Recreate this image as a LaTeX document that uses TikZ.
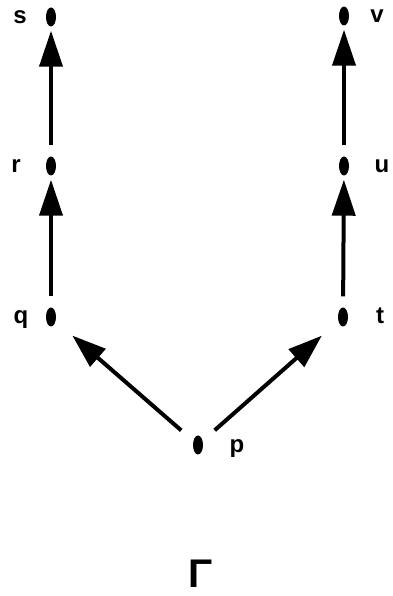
\documentclass[tikz,border=0pt]{standalone}
\usepackage{fontspec}
\setmainfont{Liberation Sans}
\usetikzlibrary{arrows.meta,shapes.geometric}
\tikzset{
  pt/.style={draw=none,fill=black,ellipse,minimum width=10pt,minimum height=19pt,inner sep=0pt},
  lbl/.style={font=\fontsize{24}{28}\selectfont\bfseries,inner sep=0pt},
  up/.style={line width=4pt,-{Triangle[length=36pt,width=23pt]},shorten <=11pt,shorten >=4pt},
  diag/.style={line width=4pt,-{Triangle[length=34pt,width=23pt]},shorten <=16pt,shorten >=22pt}
}
\begin{document}
\begin{tikzpicture}[x=1pt,y=1pt]
		\useasboundingbox (0,0) rectangle (392,596);
		% points
		\node[pt] (s) at (51,579) {};
		\node[pt] (r) at (51,430) {};
		\node[pt] (q) at (51,279) {};
		\node[pt] (p) at (198,151) {};
		\node[pt] (t) at (343,279) {};
		\node[pt] (u) at (344,430) {};
		\node[pt] (v) at (344,580) {};
		% labels
		\node[lbl] (ls) at (20,579) {s};
		\node[lbl] (lr) at (16,430) {r};
		\node[lbl] (lq) at (21,276) {q};
		\node[lbl] (lp) at (237,147) {p};
		\node[lbl] (lt) at (380,280) {t};
		\node[lbl] (lu) at (382,430) {u};
		\node[lbl] (lv) at (377,580) {v};
		% arrows
		\draw[up] (r) -- (s);
		\draw[up] (q) -- (r);
		\draw[up] (u) -- (v);
		\draw[up] (t) -- (u);
		\draw[diag] (p) -- (q);
		\draw[diag] (p) -- (t);
		\node[font=\fontsize{40}{46}\selectfont\bfseries,inner sep=0pt,anchor=base] (G) at (201,9) {Γ};
\end{tikzpicture}
\end{document}
